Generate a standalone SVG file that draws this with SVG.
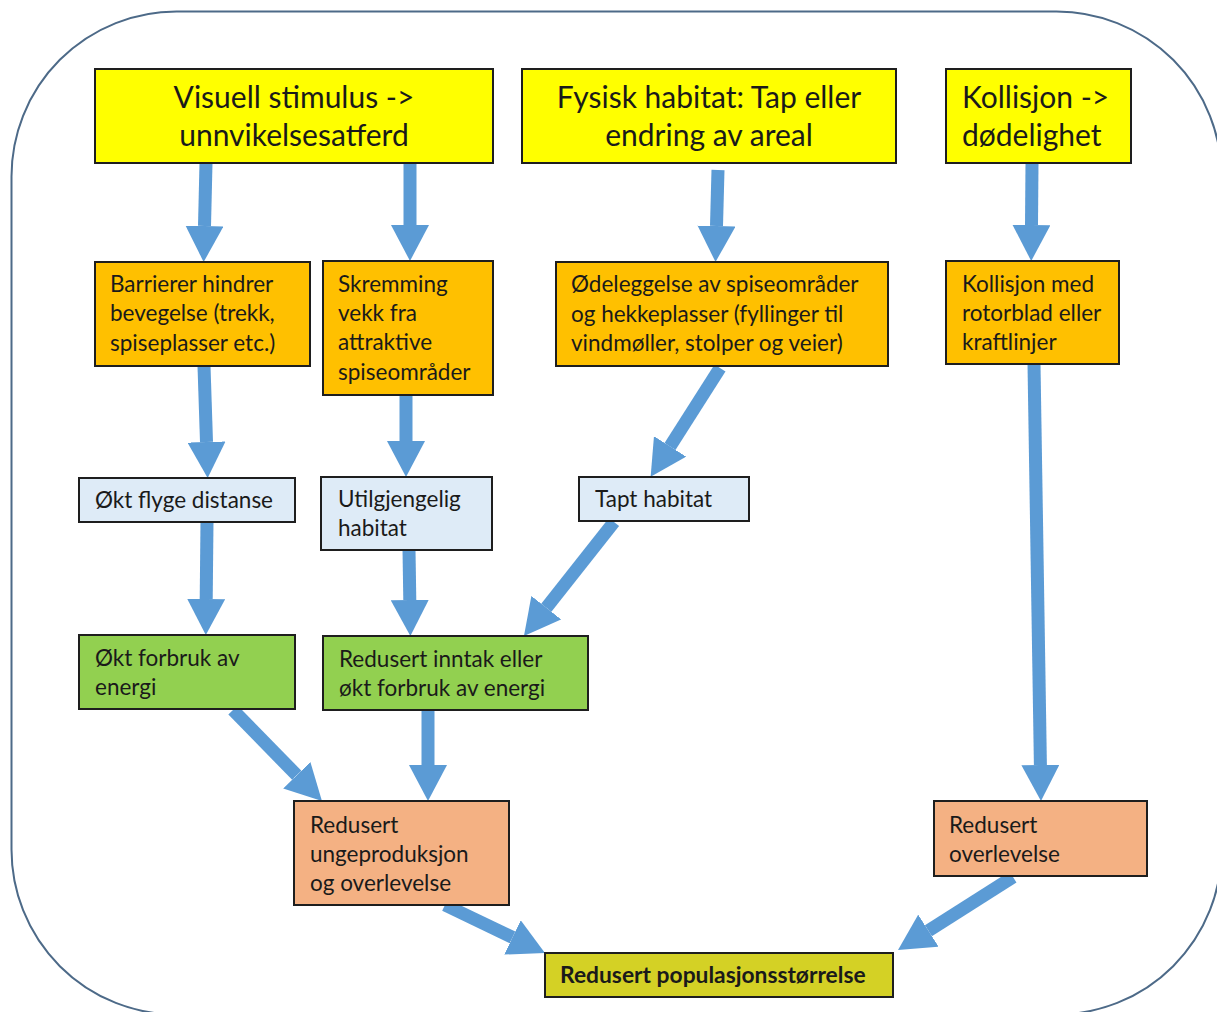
<svg xmlns="http://www.w3.org/2000/svg" width="1217" height="1012" viewBox="0 0 1217 1012">
<defs>
<style>
.box{stroke:#1e1e1e;stroke-width:2}
.y{fill:#FFFF00}.o{fill:#FFC000}.b{fill:#DEEBF7}.g{fill:#92D050}.s{fill:#F4B183}.p{fill:#D4D125}
text{font-family:Lato,"Liberation Sans",sans-serif;fill:#1a1a1a}
.big{font-size:30px;text-anchor:middle}
.big2{font-size:30px}
.t{font-size:22.5px}
.bold{font-size:22.8px;font-weight:bold}
.arr{stroke:#5B9BD5;stroke-width:13;fill:none;marker-end:url(#ah)}
</style>
<marker id="ah" markerUnits="userSpaceOnUse" viewBox="0 0 36 38" markerWidth="36" markerHeight="38" refX="0" refY="19" orient="auto">
<path d="M0,0 L36,19 L0,38 z" fill="#5B9BD5"/>
</marker>
</defs>
<rect x="11.5" y="11.5" width="1210" height="1003" rx="165" ry="165" fill="#fff" stroke="#4d6a88" stroke-width="2"/>
<g id="connectors">
<line class="arr" x1="206" y1="163" x2="204.5" y2="226"/>
<line class="arr" x1="410" y1="163" x2="410" y2="225"/>
<line class="arr" x1="718" y1="170" x2="716.5" y2="226"/>
<line class="arr" x1="1032" y1="163" x2="1031.5" y2="225"/>
<line class="arr" x1="204" y1="366" x2="206.5" y2="442"/>
<line class="arr" x1="406" y1="395" x2="406" y2="441"/>
<line class="arr" x1="720" y1="368" x2="670" y2="446.4"/>
<line class="arr" x1="1034" y1="364" x2="1040.4" y2="765"/>
<line class="arr" x1="207" y1="522" x2="206.2" y2="599"/>
<line class="arr" x1="409" y1="550" x2="409.8" y2="600"/>
<line class="arr" x1="614" y1="522" x2="546.3" y2="607.7"/>
<line class="arr" x1="233" y1="710" x2="296.8" y2="775.3"/>
<line class="arr" x1="428" y1="710" x2="428" y2="765"/>
<line class="arr" x1="445" y1="905" x2="512.5" y2="937.4"/>
<line class="arr" x1="1013" y1="877" x2="928.4" y2="930.7"/>
</g>
<g id="n-visuell"><rect class="box y" x="95" y="69" width="398" height="94"/><text class="big" x="294" y="108">Visuell stimulus -&gt;</text><text class="big" x="294" y="146">unnvikelsesatferd</text></g>
<g id="n-fysisk"><rect class="box y" x="522" y="69" width="374" height="94"/><text class="big" x="709" y="108">Fysisk habitat: Tap eller</text><text class="big" x="709" y="146">endring av areal</text></g>
<g id="n-kollisjon"><rect class="box y" x="946" y="69" width="185" height="94"/><text class="big2" x="962" y="108">Kollisjon -&gt;</text><text class="big2" x="962" y="146">dødelighet</text></g>
<g id="n-barrierer"><rect class="box o" x="95" y="262" width="215" height="104"/><text class="t" x="110" y="292">Barrierer hindrer</text><text class="t" x="110" y="321">bevegelse (trekk,</text><text class="t" x="110" y="351">spiseplasser etc.)</text></g>
<g id="n-skremming"><rect class="box o" x="323" y="261" width="170" height="134"/><text class="t" x="338" y="292">Skremming</text><text class="t" x="338" y="321">vekk fra</text><text class="t" x="338" y="350">attraktive</text><text class="t" x="338" y="380">spiseområder</text></g>
<g id="n-odeleggelse"><rect class="box o" x="556" y="262" width="332" height="104"/><text class="t" x="571" y="292">Ødeleggelse av spiseområder</text><text class="t" x="571" y="322">og hekkeplasser (fyllinger til</text><text class="t" x="571" y="351">vindmøller, stolper og veier)</text></g>
<g id="n-rotorblad"><rect class="box o" x="946" y="261" width="173" height="103"/><text class="t" x="962" y="292">Kollisjon med</text><text class="t" x="962" y="321">rotorblad eller</text><text class="t" x="962" y="350">kraftlinjer</text></g>
<g id="n-flyge"><rect class="box b" x="79" y="478" width="216" height="44"/><text class="t" x="95" y="508">Økt flyge distanse</text></g>
<g id="n-utilgjengelig"><rect class="box b" x="321" y="477" width="171" height="73"/><text class="t" x="338" y="507">Utilgjengelig</text><text class="t" x="338" y="536">habitat</text></g>
<g id="n-tapt"><rect class="box b" x="579" y="477" width="170" height="44"/><text class="t" x="595" y="507">Tapt habitat</text></g>
<g id="n-forbruk"><rect class="box g" x="79" y="635" width="216" height="74"/><text class="t" x="95" y="666">Økt forbruk av</text><text class="t" x="95" y="695">energi</text></g>
<g id="n-inntak"><rect class="box g" x="323" y="636" width="265" height="74"/><text class="t" x="339" y="667">Redusert inntak eller</text><text class="t" x="339" y="696">økt forbruk av energi</text></g>
<g id="n-ungeproduksjon"><rect class="box s" x="294" y="801" width="215" height="104"/><text class="t" x="310" y="833">Redusert</text><text class="t" x="310" y="862">ungeproduksjon</text><text class="t" x="310" y="891">og overlevelse</text></g>
<g id="n-overlevelse"><rect class="box s" x="934" y="801" width="213" height="75"/><text class="t" x="949" y="833">Redusert</text><text class="t" x="949" y="862">overlevelse</text></g>
<g id="n-populasjon"><rect class="box p" x="545" y="953" width="348" height="44"/><text class="bold" x="560" y="983">Redusert populasjonsstørrelse</text></g>
</svg>
